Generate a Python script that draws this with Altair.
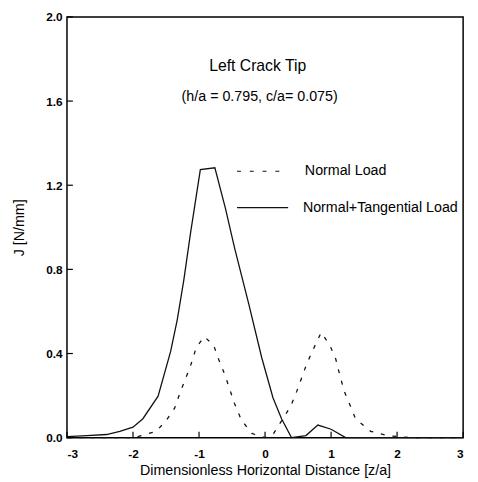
import altair as alt
import pandas as pd

# Normal + Tangential load (solid)
nt_x = [-3.0, -2.7, -2.4, -2.2, -2.0, -1.85, -1.62, -1.43, -1.33, -1.23, -1.13, -0.98, -0.76,
        -0.6, -0.46, -0.25, -0.05, 0.12, 0.25, 0.40, 0.62, 0.80, 1.0, 1.22, 1.5, 2.0, 2.5, 3.0]
nt_y = [0.005, 0.01, 0.015, 0.03, 0.05, 0.09, 0.197, 0.41, 0.56, 0.75, 0.97, 1.274, 1.283,
        1.09, 0.90, 0.64, 0.38, 0.19, 0.09, 0.0, 0.01, 0.06, 0.04, 0.0, 0.0, 0.0, 0.0, 0.0]

# Normal load (dashed)
n_x = [-3.0, -2.0, -1.87, -1.65, -1.5, -1.37, -1.28, -1.13, -1.04, -0.92, -0.78, -0.70, -0.61,
       -0.46, -0.36, -0.2, 0.0, 0.13, 0.25, 0.39, 0.48, 0.63, 0.73, 0.85, 0.98, 1.07, 1.13,
       1.2, 1.28, 1.37, 1.6, 1.85, 2.2, 3.0]
n_y = [0.0, 0.0, 0.01, 0.03, 0.08, 0.14, 0.22, 0.34, 0.43, 0.48, 0.44, 0.37, 0.30,
       0.16, 0.085, 0.02, 0.0, 0.02, 0.08, 0.15, 0.22, 0.35, 0.42, 0.50, 0.44, 0.375, 0.30,
       0.22, 0.16, 0.09, 0.03, 0.01, 0.0, 0.0]

x_ticks = [-3, -2, -1, 0, 1, 2, 3]
y_ticks = [0.0, 0.4, 0.8, 1.2, 1.6, 2.0]

series_names = ["Normal Load", "Normal+Tangential Load"]
title_lines = ["Left Crack Tip", "(h/a = 0.795, c/a= 0.075)"]

FONT = "Liberation Sans"
W, H = 403, 428

xscale = alt.Scale(domain=[-3, 3], nice=False, zero=False)
yscale = alt.Scale(domain=[0, 2.0], nice=False)
xaxis = alt.Axis(values=x_ticks, labelExpr="datum.value + ''", ticks=False, domain=False,
                 grid=False, labelPadding=11, labelFontSize=12, labelFont=FONT,
                 labelFontWeight="bold", labelColor="black",
                 title="Dimensionless Horizontal Distance [z/a]",
                 titleFont=FONT, titleFontSize=14.5, titleFontWeight="normal",
                 titleColor="black", titlePadding=4)
yaxis = alt.Axis(values=y_ticks, format=".1f", ticks=False, domain=False, grid=False,
                 labelPadding=5, labelFontSize=12, labelFont=FONT, labelFontWeight="bold",
                 labelColor="black",
                 title="J [N/mm]", titleFont=FONT, titleFontSize=14.5,
                 titleFontWeight="normal", titleColor="black", titlePadding=20)

df_nt = pd.DataFrame({"x": nt_x, "y": nt_y})
df_n = pd.DataFrame({"x": n_x, "y": n_y})

X = lambda f: alt.X(f, scale=xscale, axis=xaxis)
Y = lambda f: alt.Y(f, scale=yscale, axis=yaxis)

line_nt = alt.Chart(df_nt).mark_line(color="#111", strokeWidth=1.3).encode(x=X("x:Q"), y=Y("y:Q"))
line_n = alt.Chart(df_n).mark_line(color="#111", strokeWidth=1.3, strokeDash=[4, 8]).encode(
    x=X("x:Q"), y=Y("y:Q"))

xt = alt.Chart(pd.DataFrame({"v": x_ticks})).mark_rule(color="black", strokeWidth=1.2).encode(
    x=X("v:Q"), y=alt.value(H), y2=alt.value(H - 6))
yt = alt.Chart(pd.DataFrame({"v": y_ticks})).mark_rule(color="black", strokeWidth=1.2).encode(
    y=Y("v:Q"), x=alt.value(0), x2=alt.value(6))

one = pd.DataFrame({"a": [0]})
t1 = alt.Chart(one).mark_text(font=FONT, fontSize=16, color="black", align="center",
                              baseline="middle").encode(x=alt.value(194), y=alt.value(50),
                                                        text=alt.value(title_lines[0]))
t2 = alt.Chart(one).mark_text(font=FONT, fontSize=14.5, color="black", align="center",
                              baseline="middle").encode(x=alt.value(196), y=alt.value(81),
                                                        text=alt.value(title_lines[1]))

leg_l1 = alt.Chart(one).mark_rule(color="#111", strokeWidth=1.2, strokeDash=[4, 9]).encode(
    x=alt.value(173), x2=alt.value(225), y=alt.value(157))
leg_l2 = alt.Chart(one).mark_rule(color="#111", strokeWidth=1.2).encode(
    x=alt.value(173), x2=alt.value(225), y=alt.value(194))
leg_t1 = alt.Chart(one).mark_text(font=FONT, fontSize=14.5, color="black", align="left",
                                  baseline="middle").encode(x=alt.value(242), y=alt.value(157),
                                                            text=alt.value(series_names[0]))
leg_t2 = alt.Chart(one).mark_text(font=FONT, fontSize=14.5, color="black", align="left",
                                  baseline="middle").encode(x=alt.value(240), y=alt.value(194),
                                                            text=alt.value(series_names[1]))

chart = alt.layer(line_nt, line_n, xt, yt, t1, t2, leg_l1, leg_l2, leg_t1, leg_t2).properties(
    width=W, height=H,
    background="white",
    padding={"left": 60, "top": 5, "right": 7, "bottom": 41},
    autosize=alt.AutoSizeParams(type="none"),
).configure_view(stroke="black", strokeWidth=1.5)

chart.save("out.html", embed_options={"renderer": "svg", "actions": False})
